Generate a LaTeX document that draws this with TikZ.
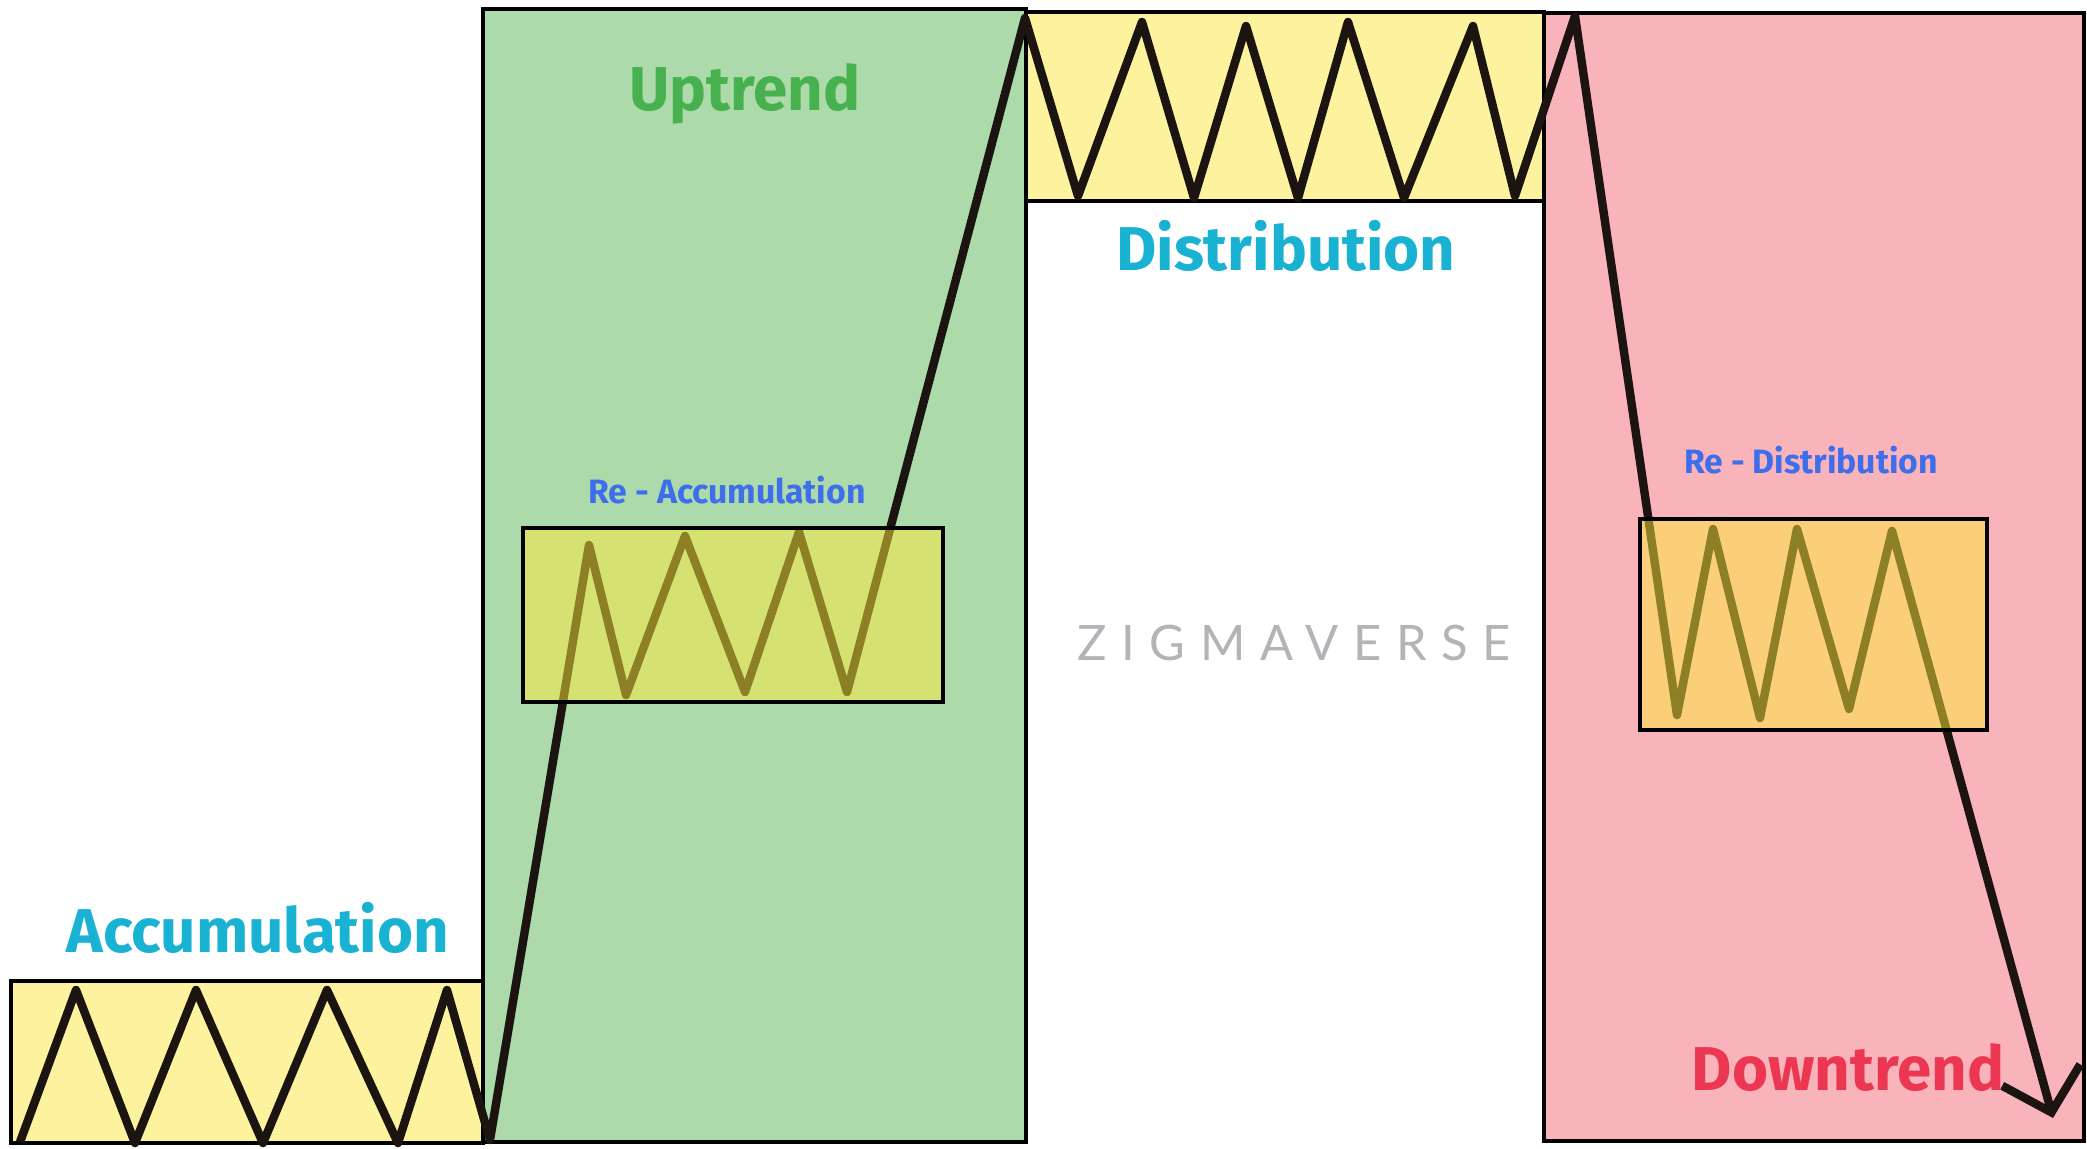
\documentclass[tikz,border=0pt]{standalone}
\usepackage{fontspec}
\setmainfont{Fira Sans}
\newfontfamily\markfont[LetterSpace=30]{Lato}
\usetikzlibrary{arrows.meta}

\definecolor{boxyellow}{HTML}{FDF29E}
\definecolor{upgreen}{HTML}{ACDAAA}
\definecolor{downpink}{HTML}{F8B4BA}
\definecolor{reyellow}{HTML}{FFEB3B}
\definecolor{pricecol}{HTML}{1C1410}
\definecolor{labelcyan}{HTML}{1AB2D2}
\definecolor{labelgreen}{HTML}{47B04F}
\definecolor{labelblue}{HTML}{3E6EEB}
\definecolor{labelred}{HTML}{EC3753}
\definecolor{markgray}{HTML}{B4B4B8}

\begin{document}
\begin{tikzpicture}[x=0.01cm,y=-0.01cm]
            \tikzstyle{every node}+=[inner sep=0pt, anchor=base]
            \tikzstyle{phasebox}=[draw=black, line width=1pt]
            \tikzstyle{bigtext}=[font=\bfseries\fontsize{17.6}{20}\selectfont]
            \tikzstyle{smalltext}=[font=\bfseries\fontsize{9.6}{11}\selectfont, text=labelblue]
            \useasboundingbox (0,0) rectangle (2087,1148);
            \fill [white] (0,0) rectangle (2087,1148);
            % phases
            \draw [phasebox, fill=upgreen] (483,9) rectangle (1026,1142);
            \draw [phasebox, fill=downpink] (1544,13) rectangle (2084,1141);
            \draw [phasebox, fill=boxyellow] (11,981) rectangle (483,1143);
            \draw [phasebox, fill=boxyellow] (1026,12) rectangle (1544,201);
            % price path
            \draw [pricecol, line width=2.4pt, line join=round, -{Straight Barb[length=11pt, width=23pt]}]
                (20,1142) -- (76,990) -- (135,1143) -- (196,990) -- (263,1143) -- (327,990)
                -- (398,1143) -- (447,990) -- (490,1140)
                -- (589,545) -- (626,695) -- (685,536) -- (745,692) -- (799,532) -- (847,692)
                -- (1025,18) -- (1078,196) -- (1142,22) -- (1194,198) -- (1246,26) -- (1298,198)
                -- (1348,22) -- (1404,198) -- (1473,26) -- (1515,196) -- (1575,16)
                -- (1677,715) -- (1713,529) -- (1760,718) -- (1797,529) -- (1849,709) -- (1892,531)
                -- (2053,1118);
            % re-accumulation and re-distribution
            \fill [reyellow, opacity=0.5] (523,528) rectangle (943,702);
            \draw [phasebox] (523,528) rectangle (943,702);
            \fill [reyellow, opacity=0.5] (1640,519) rectangle (1987,730);
            \draw [phasebox] (1640,519) rectangle (1987,730);
            % labels
            \draw (258,952) node (acclabel) [bigtext, text=labelcyan] {Accumulation};
            \draw (745,110) node (uplabel) [bigtext, text=labelgreen] {Uptrend};
            \draw (1286,270) node (distlabel) [bigtext, text=labelcyan] {Distribution};
            \draw (1848,1090) node (downlabel) [bigtext, text=labelred] {Downtrend};
            \draw (727,503) node (reacclabel) [smalltext] {Re - Accumulation};
            \draw (1811,473) node (redistlabel) [smalltext] {Re - Distribution};
            \draw (1294,660) node (watermark) [font=\markfont\fontsize{13.9}{15}\selectfont, text=markgray] {ZIGMAVERSE};
        \end{tikzpicture}
\end{document}
